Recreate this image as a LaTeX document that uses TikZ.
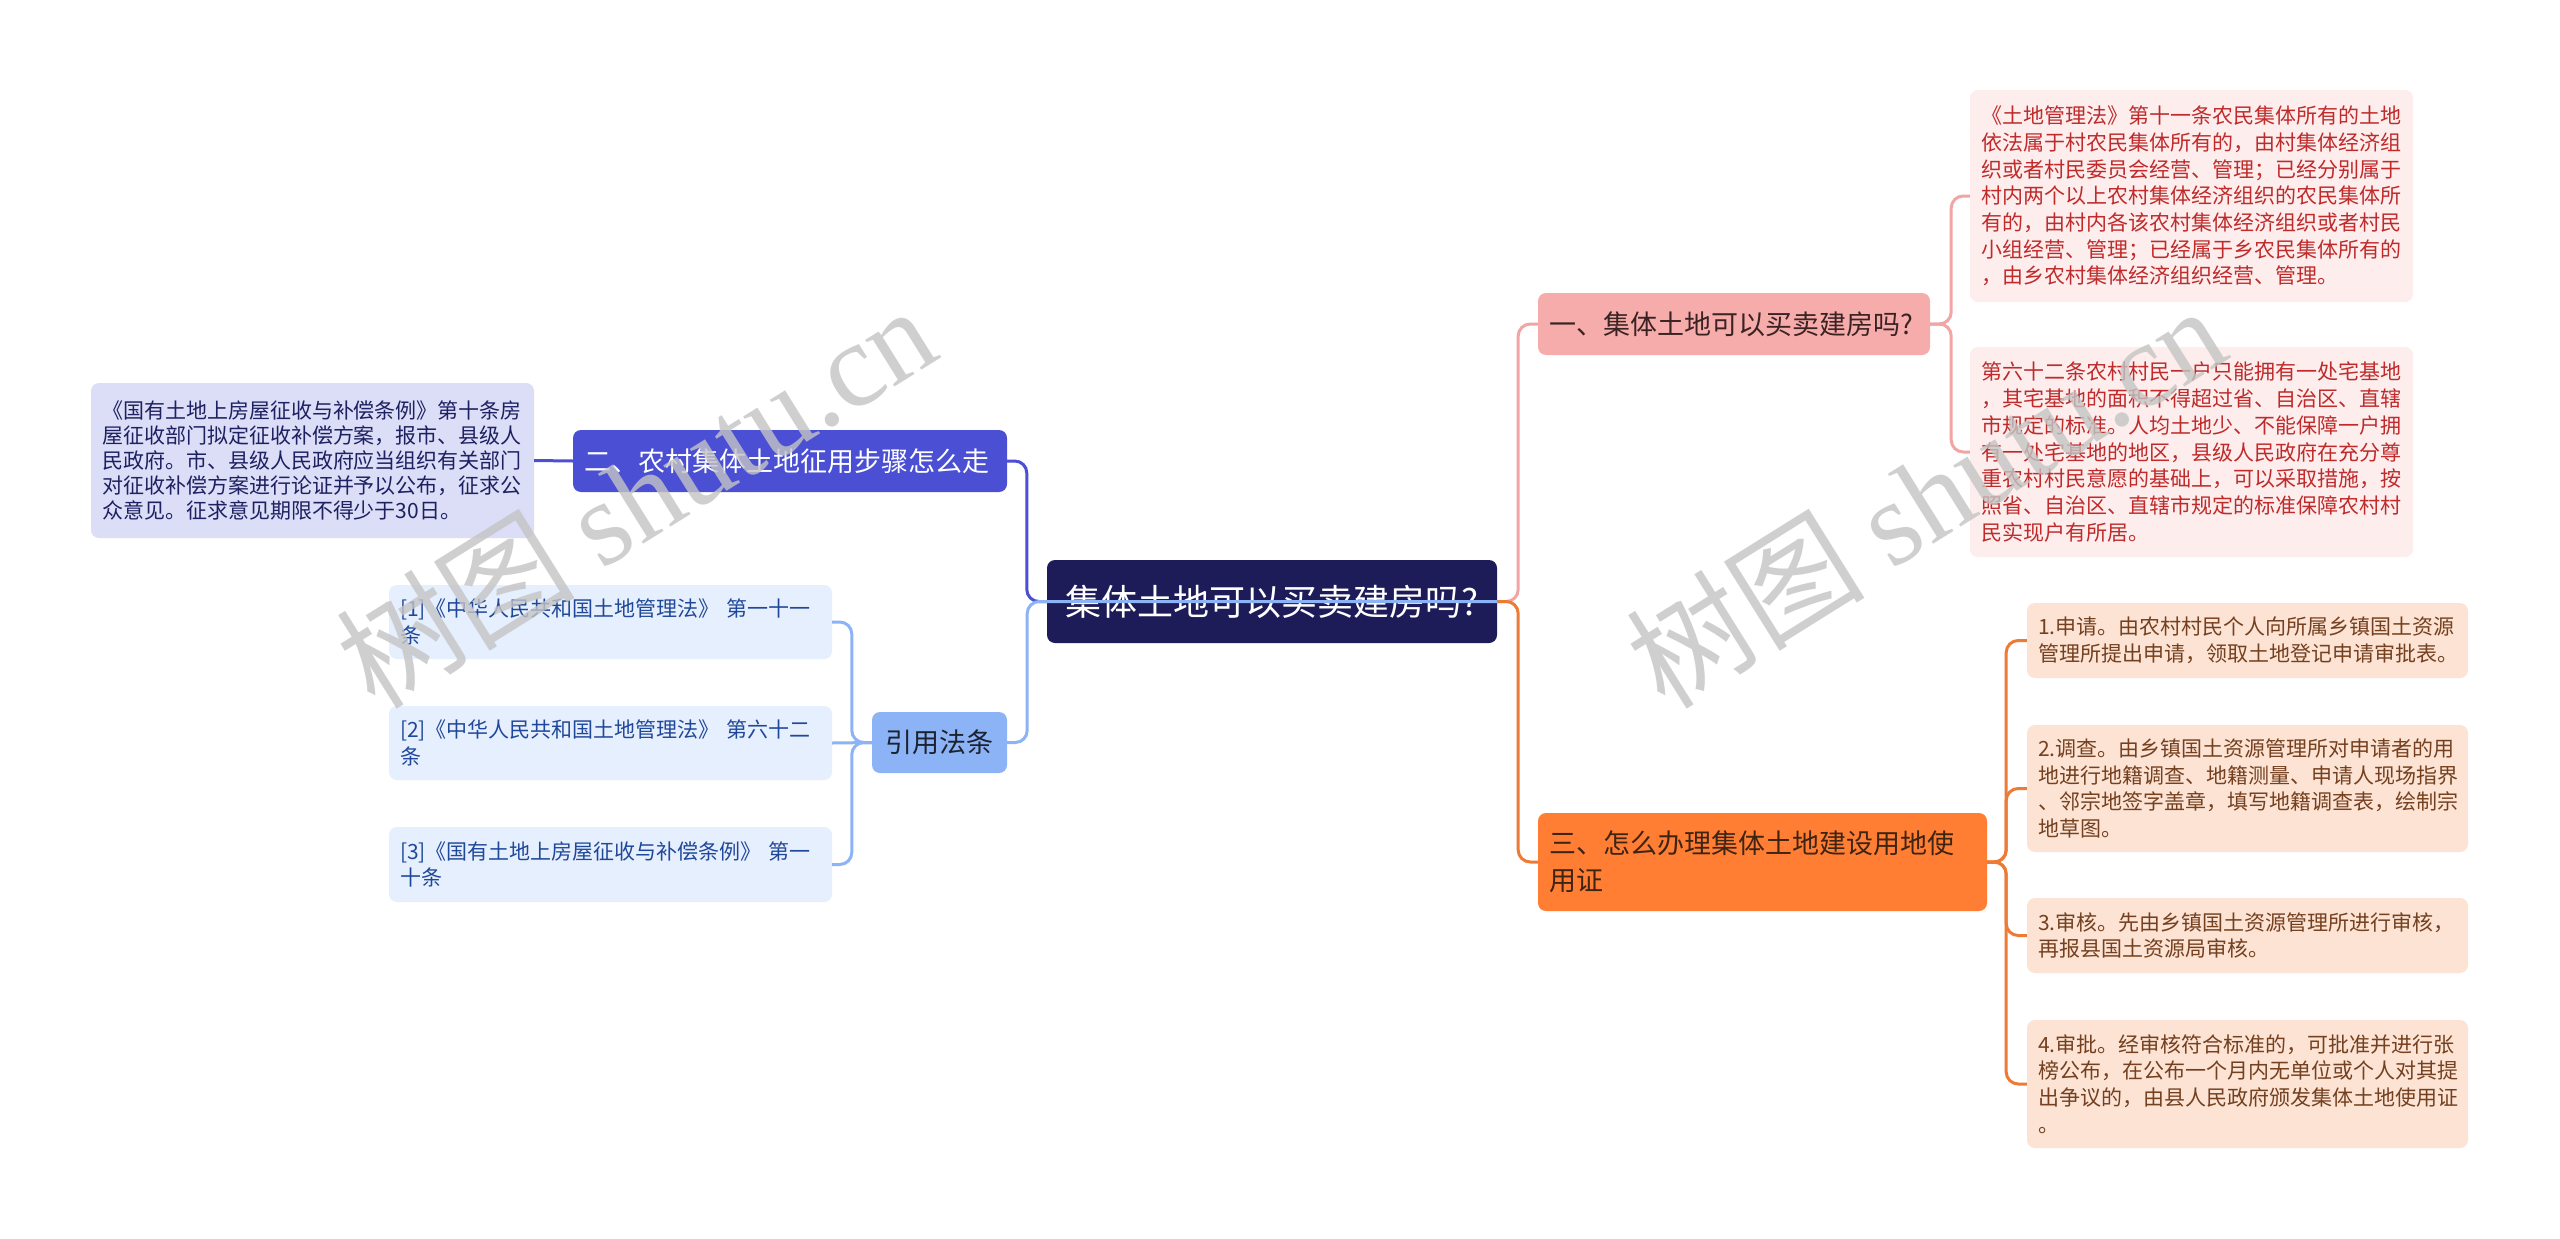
\documentclass[tikz,border=0pt]{standalone}
\usepackage{fontspec}
\setmainfont{Noto Sans CJK SC}
\newfontfamily\wmlatin{Liberation Serif}
\newfontfamily\wmcjk{Noto Sans CJK SC}
\usetikzlibrary{calc}
\definecolor{rootfill}{HTML}{1D1B58}
\definecolor{onefill}{HTML}{F7ACAC}
\definecolor{onetext}{HTML}{3B2323}
\definecolor{pinkfill}{HTML}{FDEDED}
\definecolor{pinktext}{HTML}{BF2B2B}
\definecolor{pinkline}{HTML}{F3A5A5}
\definecolor{threefill}{HTML}{FF7E33}
\definecolor{threetext}{HTML}{3D2413}
\definecolor{orfill}{HTML}{FCE3D4}
\definecolor{ortext}{HTML}{74401F}
\definecolor{orline}{HTML}{EE7B35}
\definecolor{twofill}{HTML}{4A4FD4}
\definecolor{lavfill}{HTML}{DCDDF7}
\definecolor{lavtext}{HTML}{1E2161}
\definecolor{citefill}{HTML}{8CB3F5}
\definecolor{citetext}{HTML}{1C2230}
\definecolor{reffill}{HTML}{E6EFFD}
\definecolor{reftext}{HTML}{20489A}
\definecolor{wmgray}{HTML}{C4C4C4}
\begin{document}
\begin{tikzpicture}[x=1pt,y=-1pt,
  box/.style={rectangle, rounded corners=8pt, inner xsep=11pt, inner ysep=0pt, align=left, anchor=center},
  small/.style={font=\fontsize{21pt}{26.7pt}\selectfont},
  conn/.style={line width=3pt, rounded corners=12pt},
  wm/.style={text=wmgray, opacity=0.8, rotate=32, anchor=base west, inner sep=0pt}]
\fill[white] (0,0) rectangle (2560,1239);
\useasboundingbox (0,0) rectangle (2560,1239);

% ---- nodes ----
\node[box, fill=rootfill, text=white, align=center, minimum width=450pt, minimum height=83pt, text width=428pt,
  font=\fontsize{36pt}{44pt}\selectfont] (root) at (1272,601.5) {集体土地可以买卖建房吗?};

\node[box, fill=onefill, text=onetext, minimum width=392pt, minimum height=62pt, text width=370pt,
  font=\fontsize{27pt}{37pt}\selectfont] (one) at (1734,324) {一、集体土地可以买卖建房吗?};

\node[box, small, fill=pinkfill, text=pinktext, minimum width=443pt, minimum height=212pt, text width=421pt] (p1) at (2191.5,196)
 {《土地管理法》第十一条农民集体所有的土地\\依法属于村农民集体所有的，由村集体经济组\\织或者村民委员会经营、管理；已经分别属于\\村内两个以上农村集体经济组织的农民集体所\\有的，由村内各该农村集体经济组织或者村民\\小组经营、管理；已经属于乡农民集体所有的\\，由乡农村集体经济组织经营、管理。};

\node[box, small, fill=pinkfill, text=pinktext, minimum width=443pt, minimum height=210pt, text width=421pt] (p2) at (2191.5,452)
 {第六十二条农村村民一户只能拥有一处宅基地\\，其宅基地的面积不得超过省、自治区、直辖\\市规定的标准。人均土地少、不能保障一户拥\\有一处宅基地的地区，县级人民政府在充分尊\\重农村村民意愿的基础上，可以采取措施，按\\照省、自治区、直辖市规定的标准保障农村村\\民实现户有所居。};

\node[box, fill=threefill, text=threetext, minimum width=449pt, minimum height=98pt, text width=427pt,
  font=\fontsize{27pt}{37pt}\selectfont] (three) at (1762.5,862) {三、怎么办理集体土地建设用地使\\用证};

\node[box, small, fill=orfill, text=ortext, minimum width=441pt, minimum height=75pt, text width=419pt] (o1) at (2247.5,640.5)
 {1.申请。由农村村民个人向所属乡镇国土资源\\管理所提出申请，领取土地登记申请审批表。};
\node[box, small, fill=orfill, text=ortext, minimum width=441pt, minimum height=127pt, text width=419pt] (o2) at (2247.5,788.5)
 {2.调查。由乡镇国土资源管理所对申请者的用\\地进行地籍调查、地籍测量、申请人现场指界\\、邻宗地签字盖章，填写地籍调查表，绘制宗\\地草图。};
\node[box, small, fill=orfill, text=ortext, minimum width=441pt, minimum height=75pt, text width=419pt] (o3) at (2247.5,935.5)
 {3.审核。先由乡镇国土资源管理所进行审核，\\再报县国土资源局审核。};
\node[box, small, fill=orfill, text=ortext, minimum width=441pt, minimum height=128pt, text width=419pt] (o4) at (2247.5,1084)
 {4.审批。经审核符合标准的，可批准并进行张\\榜公布，在公布一个月内无单位或个人对其提\\出争议的，由县人民政府颁发集体土地使用证\\。};

\node[box, fill=twofill, text=white, minimum width=434pt, minimum height=62pt, text width=412pt,
  font=\fontsize{27pt}{37pt}\selectfont] (two) at (790,461) {二、农村集体土地征用步骤怎么走};

\node[box, fill=lavfill, text=lavtext, minimum width=443pt, minimum height=155pt, text width=421pt,
  font=\fontsize{21pt}{25pt}\selectfont] (lav) at (312.5,460.5)
 {《国有土地上房屋征收与补偿条例》第十条房\\屋征收部门拟定征收补偿方案，报市、县级人\\民政府。市、县级人民政府应当组织有关部门\\对征收补偿方案进行论证并予以公布，征求公\\众意见。征求意见期限不得少于30日。};

\node[box, fill=citefill, text=citetext, align=center, minimum width=135pt, minimum height=61pt, text width=113pt,
  font=\fontsize{27pt}{37pt}\selectfont] (cite) at (939.5,742.5) {引用法条};

\node[box, small, fill=reffill, text=reftext, minimum width=443pt, minimum height=74pt, text width=421pt] (r1) at (610.5,622)
 {{[1]}《中华人民共和国土地管理法》 第一十一\\条};
\node[box, small, fill=reffill, text=reftext, minimum width=443pt, minimum height=74pt, text width=421pt] (r2) at (610.5,743)
 {{[2]}《中华人民共和国土地管理法》 第六十二\\条};
\node[box, small, fill=reffill, text=reftext, minimum width=443pt, minimum height=75pt, text width=421pt] (r3) at (610.5,864.5)
 {{[3]}《国有土地上房屋征收与补偿条例》 第一\\十条};

% ---- connectors ----
\draw[conn, pinkline] (root.east) -- ++(21,0) |- (one.west);
\draw[conn, orline] (root.east) -- ++(21,0) |- (three.west);
\draw[conn, pinkline] (one.east) -- ++(21,0) |- (p1.west);
\draw[conn, pinkline] (one.east) -- ++(21,0) |- (p2.west);
\draw[conn, orline] (three.east) -- ++(19,0) |- (o1.west);
\draw[conn, orline] (three.east) -- ++(19,0) |- (o2.west);
\draw[conn, orline] (three.east) -- ++(19,0) |- (o3.west);
\draw[conn, orline] (three.east) -- ++(19,0) |- (o4.west);
\draw[conn, twofill] (root.west) -- ++(-20,0) |- (two.east);
\draw[conn, twofill] (two.west) -- (lav.east);
\draw[conn, citefill] (root.east) -- ++(-470,0) |- (cite.east);
\draw[conn, citefill] (cite.west) -- ++(-20,0) |- (r1.east);
\draw[conn, citefill] (cite.west) -- (r2.east);
\draw[conn, citefill] (cite.west) -- ++(-20,0) |- (r3.east);

% ---- watermarks ----
\node[wm] (wm1) at (375,712) {\fontsize{120pt}{120pt}\selectfont\wmcjk 树图\ \wmlatin shutu.cn};
\node[wm] (wm2) at (1665,712) {\fontsize{120pt}{120pt}\selectfont\wmcjk 树图\ \wmlatin shutu.cn};
\end{tikzpicture}
\end{document}
